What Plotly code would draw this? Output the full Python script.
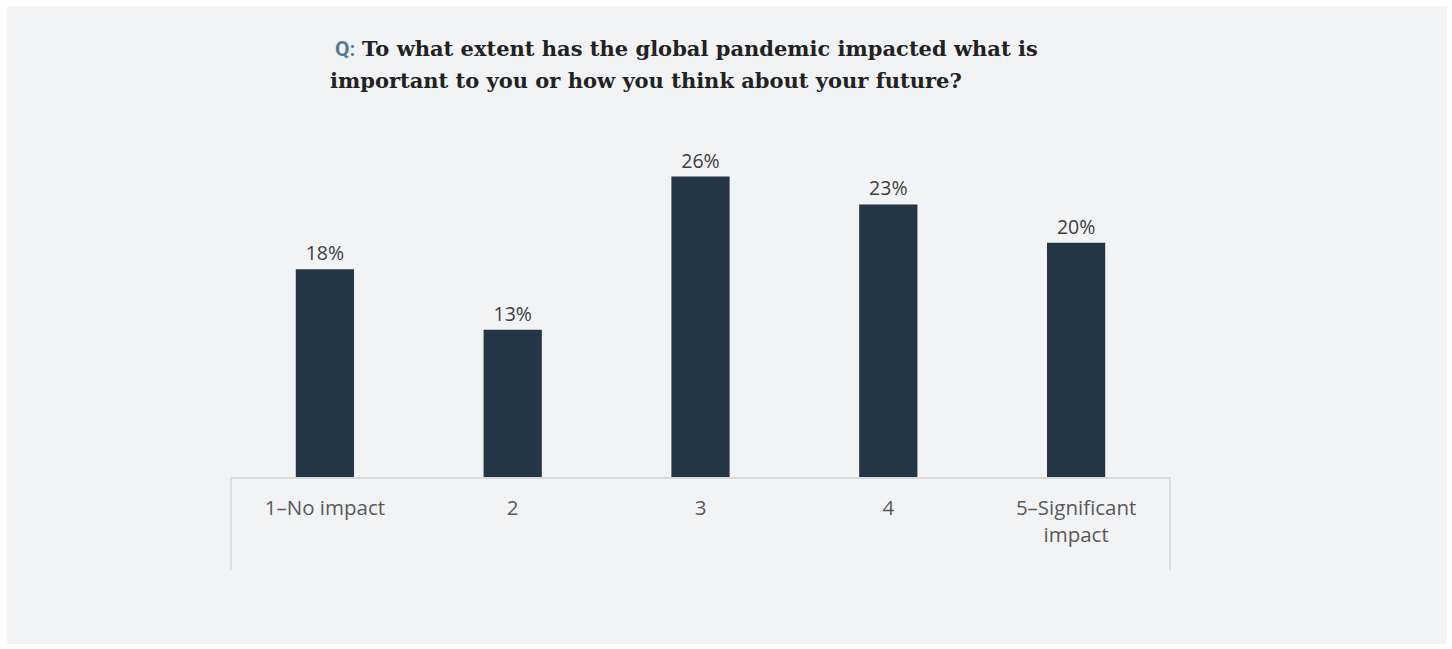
import plotly.graph_objects as go

categories = ["1–No impact", "2", "3", "4", "5–Significant<br>impact"]
values = [17.9, 12.7, 25.9, 23.5, 20.2]
labels = ["18%", "13%", "26%", "23%", "20%"]

W, H = 1452, 649
L, R, T, B = 231, 1170, 120, 477
pw, ph = R - L, B - T

def px(x):
    return (x - L) / pw

def py(y):
    return (B - y) / ph

fig = go.Figure(go.Bar(
    x=categories, y=values, text=labels, textposition="outside",
    textfont=dict(family="Open Sans, sans-serif", size=19.5, color="#404040"),
    marker=dict(color="#243546", line=dict(width=0)),
    width=0.31, cliponaxis=False,
))

fig.update_layout(
    width=W, height=H,
    margin=dict(l=L, r=W - R, t=T, b=H - B),
    paper_bgcolor="white", plot_bgcolor="rgba(0,0,0,0)",
    showlegend=False,
    xaxis=dict(showline=True, linecolor="#d9d9d9", linewidth=1.5,
               tickfont=dict(family="Open Sans, sans-serif", size=20.5, color="#595959"),
               ticks="", ticklabelstandoff=12),
    yaxis=dict(visible=False, range=[0, ph / 11.6]),
    shapes=[
        dict(type="rect", xref="paper", yref="paper", x0=px(7), x1=px(1447),
             y0=py(644), y1=py(6), fillcolor="#f2f3f5", line=dict(width=0), layer="below"),
        dict(type="line", xref="paper", yref="paper", x0=0, x1=0, y0=0, y1=py(570),
             line=dict(color="#d9d9d9", width=1.5)),
        dict(type="line", xref="paper", yref="paper", x0=1, x1=1, y0=0, y1=py(570),
             line=dict(color="#d9d9d9", width=1.5)),
    ],
    annotations=[
        dict(xref="paper", yref="paper", x=px(333), y=py(48), xanchor="left", yanchor="middle",
             showarrow=False, align="left",
             text="<span style='color:#4f7d96;font-family:Roboto, sans-serif'><b>Q:</b></span> <b>To what extent has the global pandemic impacted what is</b>",
             font=dict(family="DejaVu Serif, serif", size=21, color="#222222")),
        dict(xref="paper", yref="paper", x=px(328), y=py(81), xanchor="left", yanchor="middle",
             showarrow=False, align="left",
             text="<b>important to you or how you think about your future?</b>",
             font=dict(family="DejaVu Serif, serif", size=21, color="#222222")),
    ],
)

fig.write_html("out.html")
